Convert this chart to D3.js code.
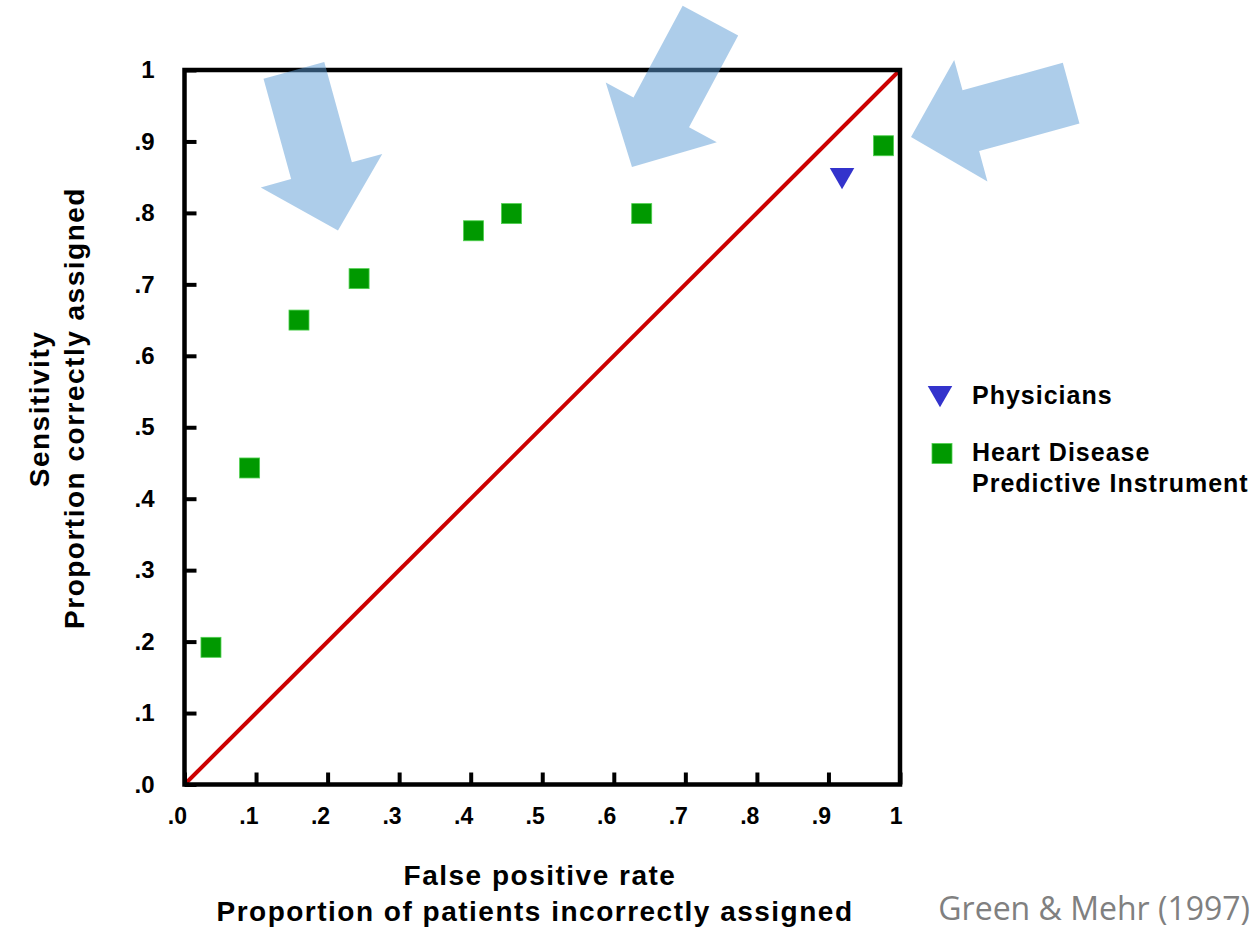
<!DOCTYPE html>
<html>
<head>
<meta charset="utf-8">
<script src="https://cdn.jsdelivr.net/npm/d3@7"></script>
<style>
	body { margin: 0; background: #ffffff; }
	text { font-family: "Liberation Sans", Arial, sans-serif; font-weight: bold; }
</style>
</head>
<body>
<div id="chart"></div>
<script>
// heart disease predictive instrument (false positive rate, sensitivity)
var instrumentFpr = [0.037, 0.091, 0.160, 0.244, 0.404, 0.457, 0.639, 0.977];
var instrumentSens = [0.192, 0.443, 0.650, 0.708, 0.775, 0.799, 0.799, 0.894];

// physicians
var physiciansFpr = [0.919];
var physiciansSens = [0.853];

var tickValues = [0, 0.1, 0.2, 0.3, 0.4, 0.5, 0.6, 0.7, 0.8, 0.9, 1];
var tickLabels = [".0", ".1", ".2", ".3", ".4", ".5", ".6", ".7", ".8", ".9", "1"];

// annotation arrows: tip (data units) and pointing angle (deg)
var arrowTipX = [0.2145, 0.6254, 1.0154];
var arrowTipY = [0.7754, 0.8642, 0.9062];
var arrowAngle = [74.6, 118.2, 164.7];

var width = 1257, height = 931;
var margin = { left: 184.5, top: 70 };
var plotW = 715.5, plotH = 714.5;

var svg = d3.select("#chart").append("svg")
	.attr("width", width)
	.attr("height", height);

var g = svg.append("g")
	.attr("transform", "translate(" + margin.left + "," + margin.top + ")");

var x = d3.scaleLinear().domain([0, 1]).range([0, plotW]);
var y = d3.scaleLinear().domain([0, 1]).range([plotH, 0]);

var fmt = function(d) { return tickLabels[tickValues.indexOf(d)]; };

// diagonal chance line
g.append("line")
	.attr("x1", x(0)).attr("y1", y(0))
	.attr("x2", x(1)).attr("y2", y(1))
	.attr("stroke", "#cc0000")
	.attr("stroke-width", 4);

// axes with inward ticks
var xAxis = g.append("g")
	.attr("transform", "translate(0," + plotH + ")")
	.call(d3.axisBottom(x).tickValues(tickValues).tickFormat(fmt).tickSizeInner(-12).tickSizeOuter(0));
xAxis.select(".domain").remove();
xAxis.selectAll(".tick line").attr("stroke", "#000").attr("stroke-width", 4);
xAxis.selectAll(".tick text")
	.attr("y", 39).attr("dy", 0).attr("x", 2)
	.attr("text-anchor", "end")
	.attr("fill", "#000")
	.style("font-size", "23px");

var yAxis = g.append("g")
	.call(d3.axisLeft(y).tickValues(tickValues).tickFormat(fmt).tickSizeInner(-12).tickSizeOuter(0));
yAxis.select(".domain").remove();
yAxis.selectAll(".tick line").attr("stroke", "#000").attr("stroke-width", 4);
yAxis.selectAll(".tick text")
	.attr("x", -30)
	.attr("fill", "#000")
	.style("font-size", "24px");

// frame
g.append("rect")
	.attr("x", 0).attr("y", 0)
	.attr("width", plotW).attr("height", plotH)
	.attr("fill", "none")
	.attr("stroke", "#000")
	.attr("stroke-width", 4.5);

// instrument points
var sq = 20;
g.selectAll(".instrument")
	.data(d3.range(instrumentFpr.length))
	.enter().append("rect")
	.attr("class", "instrument")
	.attr("x", function(i) { return x(instrumentFpr[i]) - sq / 2; })
	.attr("y", function(i) { return y(instrumentSens[i]) - sq / 2; })
	.attr("width", sq).attr("height", sq)
	.attr("fill", "#009900")
	.attr("stroke", "#4fd04f")
	.attr("stroke-width", 0.8);

// physicians point
var tri = d3.symbol().type(d3.symbolTriangle).size(260);
g.selectAll(".physicians")
	.data(d3.range(physiciansFpr.length))
	.enter().append("path")
	.attr("class", "physicians")
	.attr("d", tri)
	.attr("transform", function(i) {
		return "translate(" + x(physiciansFpr[i]) + "," + y(physiciansSens[i]) + ") rotate(180)";
	})
	.attr("fill", "#3333cc");

// arrows
var arrowShape = [[0, 0], [-62, -63], [-62, -31.5], [-166, -31.5], [-166, 31.5], [-62, 31.5], [-62, 63]];
g.selectAll(".arrow")
	.data(d3.range(arrowTipX.length))
	.enter().append("path")
	.attr("class", "arrow")
	.attr("d", "M" + arrowShape.join("L") + "Z")
	.attr("transform", function(i) {
		return "translate(" + x(arrowTipX[i]) + "," + y(arrowTipY[i]) + ") rotate(" + arrowAngle[i] + ")";
	})
	.attr("fill", "#5b9bd5")
	.attr("fill-opacity", 0.5);

// axis titles
var titleStyle = function(sel) {
	sel.attr("text-anchor", "middle").attr("fill", "#000")
		.style("font-size", "28px").style("letter-spacing", "1.5px");
};
svg.append("text").attr("x", 540).attr("y", 885).text("False positive rate").call(titleStyle);
svg.append("text").attr("x", 535).attr("y", 921).text("Proportion of patients incorrectly assigned").call(titleStyle);

svg.append("text").attr("transform", "translate(49,409) rotate(-90)").text("Sensitivity").call(titleStyle);
svg.append("text").attr("transform", "translate(84,408) rotate(-90)").text("Proportion correctly assigned").call(titleStyle);

// legend
var legend = svg.append("g");
legend.append("path")
	.attr("d", tri)
	.attr("transform", "translate(940,393) rotate(180)")
	.attr("fill", "#3333cc");
legend.append("rect")
	.attr("x", 932).attr("y", 443.5).attr("width", sq).attr("height", sq)
	.attr("fill", "#009900")
	.attr("stroke", "#4fd04f")
	.attr("stroke-width", 0.8);
var legendText = function(sel) {
	sel.attr("fill", "#000").style("font-size", "25px").style("letter-spacing", "1px");
};
legend.append("text").attr("x", 972).attr("y", 404).text("Physicians").call(legendText);
legend.append("text").attr("x", 972).attr("y", 461).text("Heart Disease").call(legendText);
legend.append("text").attr("x", 972).attr("y", 492).text("Predictive Instrument").call(legendText);

// source
svg.append("text")
	.attr("x", 1250).attr("y", 920)
	.attr("text-anchor", "end")
	.attr("fill", "#808080")
	.style("font-family", "'Open Sans', sans-serif")
	.style("font-weight", "normal")
	.style("font-size", "32px")
	.text("Green & Mehr (1997)");
</script>
</body>
</html>
